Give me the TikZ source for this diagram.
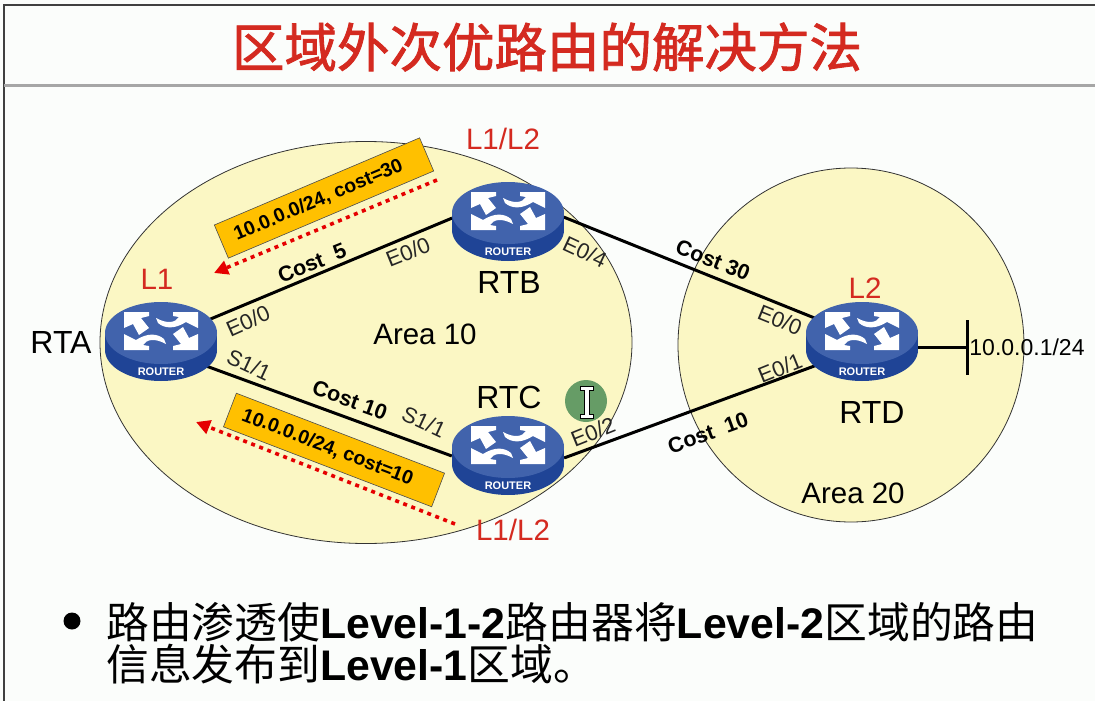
\documentclass[tikz,border=0pt]{standalone}
\usepackage{fontspec}
\setmainfont{Liberation Sans}
\newfontfamily\cjk{Noto Sans CJK SC}
\newfontfamily\cjktitle[FakeBold=1.6]{Noto Sans CJK SC}
\usetikzlibrary{arrows.meta,shapes.geometric}
\definecolor{routertop}{HTML}{4163AC}
\definecolor{routerside}{HTML}{1F4496}
\definecolor{areafill}{HTML}{FBF7C4}
\definecolor{tagfill}{HTML}{FFC000}
\definecolor{redtext}{HTML}{D42A20}
\definecolor{paper}{HTML}{FBFDFB}
\tikzset{
  routernode/.style={ellipse, minimum width=112pt, minimum height=80pt, inner sep=0pt},
  area/.style={draw=black!80, fill=areafill, line width=0.8pt},
  link/.style={line width=3pt, black},
  port/.style={font=\fontsize{22}{22}\selectfont, text=black!85, inner sep=0pt},
  costlabel/.style={font=\fontsize{21.5}{21.5}\selectfont\bfseries, inner sep=0pt},
  hostname/.style={font=\fontsize{32}{32}\selectfont},
  levelname/.style={font=\fontsize{29.5}{29.5}\selectfont, text=redtext},
  tagbox/.style={draw=black!70, fill=tagfill, line width=0.6pt, minimum width=223pt, minimum height=36pt,
    inner sep=0pt, font=\fontsize{19.5}{19.5}\selectfont\bfseries},
  adarrow/.style={draw=red!90!black, line width=3.6pt, dash pattern=on 4pt off 4.6pt, -{Triangle[length=14pt,width=14pt]}},
  pics/router/.style={code={
    \fill[routerside] (0,8) ellipse (56 and 31);
    \fill[routerside] (-56,-9) rectangle (56,8);
    \fill[routertop] (0,-9) ellipse (56 and 31);
    \begin{scope}[shift={(0,-11)}]
      \foreach \r in {0,180} {
        \fill[white, rotate=\r] (-37,-19) -- (-12,-19) -- (-12,-15) -- (-20,-13) -- (-12,-3) -- (-22,4) -- (-28,-7) -- (-37,-3) -- cycle;
        \fill[white, rotate=\r] (37,-19) -- (12,-19) -- (12,-15) -- (18,-14) .. controls (14,-8) and (6,-7) .. (-5,-13) -- (-3,-8) .. controls (4,-2) and (14,-2) .. (25,-9) -- (37,-3) -- cycle;
      }
    \end{scope}
    \node[white, font=\fontsize{11}{11}\selectfont\bfseries, inner sep=0pt] (tag) at (0,29.5) {ROUTER};
  }},
}
\begin{document}
\begin{tikzpicture}[x=1pt, y=-1pt]
  \useasboundingbox (0,0) rectangle (1095,701);
  \fill[paper] (0,0) rectangle (1095,701);
  % frame and title
  \draw[black!75, line width=1.6pt] (4,701) -- (4,5) -- (1095,5);
  \draw[black!35, line width=3pt] (4,85) -- (1095,85);
  \node[text=redtext, font=\fontsize{52.5}{52.5}\selectfont\cjktitle] (title) at (547,47) {区域外次优路由的解决方法};

  % areas
  \draw[area] (366,342.5) ellipse (266 and 201);
  \draw[area] (851,345) ellipse (173 and 177);
  \node[font=\fontsize{29.5}{29.5}\selectfont] (area10) at (425,334) {Area 10};
  \node[font=\fontsize{29.5}{29.5}\selectfont] (area20) at (853,493) {Area 20};

  % routers
  \node[routernode] (rta) at (161,342) {};
  \node[routernode] (rtb) at (508,222) {};
  \node[routernode] (rtc) at (508,456) {};
  \node[routernode] (rtd) at (862,342) {};
  \coordinate (stub) at (967,347);
  \coordinate (stubtop) at (967,320);
  \coordinate (stubbot) at (967,375);

  \draw[link] (rta.25) -- (rtb.176);
  \draw[link] (rta.-28) -- (rtc.180);
  \draw[link] (rtb.5) -- (rtd.153);
  \draw[link] (rtc.-2) -- (rtd.207);
  \draw[link] (stub -| rtd.east) -- (stub);
  \draw[line width=3pt] (stubtop) -- (stubbot);
  \foreach \rname in {rta,rtb,rtc,rtd}
    \pic at (\rname) {router};

  % advertised routes
  \node[tagbox, rotate=23] (tagb) at (324,198) {10.0.0.0/24, cost=30\rule{12pt}{0pt}};
  \node[tagbox, rotate=-21] (tagc) at (334,450) {10.0.0.0/24, cost=10\rule{14pt}{0pt}};
  \coordinate (advbstart) at (437,180);
  \coordinate (advbend) at (214,273);
  \coordinate (advcstart) at (455,524);
  \coordinate (advcend) at (196,422);
  \draw[adarrow] (advbstart) -- (advbend);
  \draw[adarrow] (advcstart) -- (advcend);

  % names
  \node[hostname] (nameA) at (61,342) {RTA};
  \node[hostname] (nameB) at (509,282) {RTB};
  \node[hostname] (nameC) at (509,397) {RTC};
  \node[hostname] (nameD) at (872,412) {RTD};
  \node[levelname] (levA) at (157,279) {L1};
  \node[levelname] (levB) at (503,139) {L1/L2};
  \node[levelname] (levC) at (513,530) {L1/L2};
  \node[levelname] (levD) at (865,288) {L2};

  % ports
  \node[port, rotate=24] (pa0) at (248,321) {E0/0};
  \node[port, rotate=22] (pb0) at (408,252) {E0/0};
  \node[port, rotate=-25] (pa1) at (249,365) {S1/1};
  \node[port, rotate=-25] (pc1) at (424,422) {S1/1};
  \node[port, rotate=-25] (pb4) at (585,252) {E0/4};
  \node[port, rotate=22] (pc2) at (593,432) {E0/2};
  \node[port, rotate=-22] (pd0) at (780,320) {E0/0};
  \node[port, rotate=22] (pd1) at (780,368) {E0/1};
  \node[costlabel, rotate=22] (cab) at (312,263) {Cost\ \ 5};
  \node[costlabel, rotate=-20] (cac) at (350,400) {Cost 10};
  \node[costlabel, rotate=-22] (cbd) at (713,260) {Cost 30};
  \node[costlabel, rotate=20] (ccd) at (708,433) {Cost\ \ 10};
  \node[font=\fontsize{23}{23}\selectfont, inner sep=0pt] (net) at (1027,347) {10.0.0.1/24};

  % mouse pointer
  \fill[green!35!black!60!white] (586,401) circle (21);
  \draw[black, fill=white, line width=1pt] (580,386) -- (593,386) -- (593,390) -- (589,390) -- (589,414) -- (593,414) -- (593,418) -- (580,418) -- (580,414) -- (584,414) -- (584,390) -- (580,390) -- cycle;

  % bottom text
  \fill (72,621) circle (8.5);
  \node[anchor=west, inner sep=0pt, font=\fontsize{42.8}{42.8}\selectfont] (line1) at (106,622) {{\cjk 路由渗透使}\textbf{Level-1-2}{\cjk 路由器将}\textbf{Level-2}{\cjk 区域的路由}};
  \node[anchor=west, inner sep=0pt, font=\fontsize{42.8}{42.8}\selectfont] (line2) at (106,664) {{\cjk 信息发布到}\textbf{Level-1}{\cjk 区域。}};
\end{tikzpicture}
\end{document}
